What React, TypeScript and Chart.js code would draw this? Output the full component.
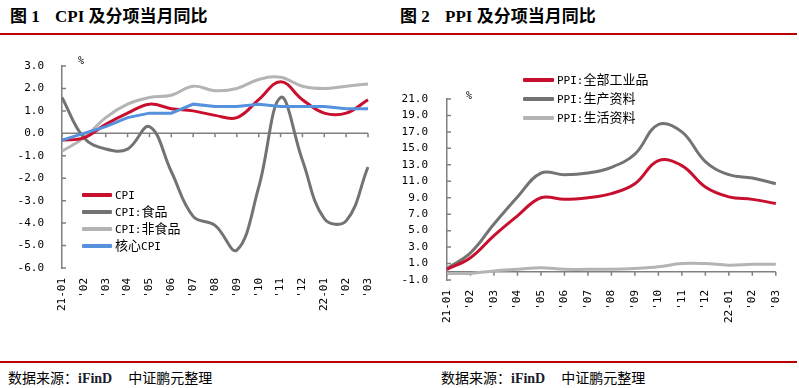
import React, { useEffect, useRef } from "react";
import { Chart, registerables } from "chart.js";

Chart.register(...registerables);

// ---------- data ----------
const months = ["21-01", "'02", "'03", "'04", "'05", "'06", "'07", "'08", "'09", "'10", "'11", "'12", "22-01", "'02", "'03"];

const cpiNames = ["CPI", "CPI:食品", "CPI:非食品", "核心CPI"];
const cpiAll = [-0.3, -0.2, 0.4, 0.9, 1.3, 1.1, 1.0, 0.8, 0.7, 1.5, 2.3, 1.5, 0.9, 0.9, 1.5];
const cpiFood = [1.6, -0.2, -0.7, -0.7, 0.3, -1.7, -3.7, -4.1, -5.2, -2.4, 1.6, -1.2, -3.8, -3.9, -1.5];
const cpiNonFood = [-0.8, -0.2, 0.7, 1.3, 1.6, 1.7, 2.1, 1.9, 2.0, 2.4, 2.5, 2.1, 2.0, 2.1, 2.2];
const cpiCore = [-0.3, 0.0, 0.3, 0.7, 0.9, 0.9, 1.3, 1.2, 1.2, 1.3, 1.2, 1.2, 1.2, 1.1, 1.1];

const ppiNames = ["PPI:全部工业品", "PPI:生产资料", "PPI:生活资料"];
const ppiAll = [0.3, 1.7, 4.4, 6.8, 9.0, 8.8, 9.0, 9.5, 10.7, 13.5, 12.9, 10.3, 9.1, 8.8, 8.3];
const ppiProducer = [0.4, 2.3, 5.8, 9.1, 12.0, 11.8, 12.0, 12.7, 14.3, 17.9, 17.0, 13.4, 11.8, 11.4, 10.7];
const ppiConsumer = [-0.2, -0.2, 0.1, 0.3, 0.5, 0.3, 0.3, 0.3, 0.4, 0.6, 1.0, 1.0, 0.8, 0.9, 0.9];

const RED = "#c8102e";
const DARK = "#737373";
const LIGHT = "#b4b4b4";
const BLUE = "#5591dc";
const AXIS = "#808080";

const MONO = "'DejaVu Sans Mono', monospace";
const CJK = "'Noto Sans CJK SC', sans-serif";
const SERIF = "'Liberation Serif', serif";

// ---------- plugin: zero axis with ticks, inward y ticks ----------
const axisDecor = {
  id: "axisDecor",
  beforeDatasetsDraw(chart: any) {
    const ctx = chart.ctx;
    const xs = chart.scales.x;
    const ys = chart.scales.y;
    ctx.save();
    ctx.strokeStyle = AXIS;
    ctx.lineWidth = 1.5;
    const y0 = ys.getPixelForValue(0);
    ctx.beginPath();
    ctx.moveTo(xs.left, y0);
    ctx.lineTo(xs.right, y0);
    for (let i = 0; i < chart.data.labels.length; i++) {
      const px = xs.getPixelForValue(i);
      ctx.moveTo(px, y0);
      ctx.lineTo(px, y0 + 4);
    }
    for (const t of ys.ticks) {
      const py = ys.getPixelForValue(t.value);
      ctx.moveTo(ys.right, py);
      ctx.lineTo(ys.right + 4, py);
    }
    ctx.stroke();
    ctx.restore();
  },
};

function makeConfig(
  datasets: any[],
  yMin: number,
  yMax: number,
  step: number,
  yWidth: number,
  xHeight: number,
  padding: any,
  tickPad: number
) {
  return {
    type: "line",
    data: { labels: months, datasets },
    options: {
      responsive: false,
      devicePixelRatio: 1,
      animation: false,
      layout: { padding },
      plugins: { legend: { display: false }, title: { display: false }, tooltip: { enabled: false } },
      elements: { point: { radius: 0 } },
      scales: {
        x: {
          type: "category",
          offset: false,
          grid: { display: false, drawTicks: false },
          border: { display: false },
          ticks: {
            autoSkip: false,
            minRotation: 90,
            maxRotation: 90,
            padding: 10,
            color: "#000",
            font: { family: MONO, size: 11 },
          },
          afterFit: (s: any) => {
            s.height = xHeight;
          },
        },
        y: {
          min: yMin,
          max: yMax,
          grid: { display: false, drawTicks: false },
          border: { display: true, color: AXIS, width: 1.5 },
          ticks: {
            stepSize: step,
            padding: tickPad,
            color: "#000",
            font: { family: MONO, size: 11 },
            callback: (v: any) => Number(v).toFixed(1),
          },
          afterFit: (s: any) => {
            s.width = yWidth;
          },
        },
      },
    },
    plugins: [axisDecor],
  } as any;
}

function ChartCanvas({ config, left, top, width, height }: any) {
  const ref = useRef<HTMLCanvasElement | null>(null);
  useEffect(() => {
    if (!ref.current) return;
    const c = new Chart(ref.current, config);
    return () => c.destroy();
  }, []);
  return (
    <canvas
      ref={ref}
      width={width}
      height={height}
      style={{ position: "absolute", left, top, width, height, display: "block" }}
    />
  );
}

function Mixed({ text }: { text: string }) {
  const parts = text.match(/[\x00-\x7f]+|[^\x00-\x7f]+/g) || [];
  return (
    <>
      {parts.map((p, i) =>
        /^[\x00-\x7f]+$/.test(p) ? (
          <span key={i} style={{ fontFamily: MONO, fontSize: 11 }}>{p}</span>
        ) : (
          <span key={i} style={{ fontFamily: CJK, fontSize: 13 }}>{p}</span>
        )
      )}
    </>
  );
}

function Legend({ items, left, tops, sample }: any) {
  return (
    <>
      {items.map((it: any, i: number) => (
        <div
          key={i}
          style={{
            position: "absolute",
            left,
            top: tops[i] - 9,
            height: 18,
            display: "flex",
            alignItems: "center",
            whiteSpace: "nowrap",
            color: "#000",
          }}
        >
          <div style={{ width: sample, height: 4, background: it.color, marginRight: 3, borderRadius: 1 }} />
          <div style={{ lineHeight: "18px" }}>
            <Mixed text={it.name} />
          </div>
        </div>
      ))}
    </>
  );
}

function Title({ left, num, head }: any) {
  return (
    <>
      <div style={{ position: "absolute", left, top: 4, whiteSpace: "nowrap", lineHeight: "22px", fontWeight: 700 }}>
        <span style={{ fontFamily: CJK, fontSize: 17 }}>图</span>
        <span style={{ fontFamily: SERIF, fontSize: 17 }}> {num}</span>
      </div>
      <div style={{ position: "absolute", left: left + 45, top: 4, whiteSpace: "nowrap", lineHeight: "22px", fontWeight: 700 }}>
        <span style={{ fontFamily: SERIF, fontSize: 17 }}>{head} </span>
        <span style={{ fontFamily: CJK, fontSize: 17 }}>及分项当月同比</span>
      </div>
    </>
  );
}

function Source({ left }: any) {
  return (
    <div style={{ position: "absolute", left, top: 367, whiteSpace: "nowrap", lineHeight: "20px", color: "#000" }}>
      <span style={{ fontFamily: CJK, fontSize: 14 }}>数据来源：</span>
      <span style={{ fontFamily: SERIF, fontSize: 14, fontWeight: 700, color: "#1a1a2e" }}>iFinD</span>
      <span style={{ fontFamily: CJK, fontSize: 14, marginLeft: 16 }}>中证鹏元整理</span>
    </div>
  );
}

export default function App() {
  const line = (label: string, data: number[], color: string, order: number, tension = 0.4) => ({
    label,
    data,
    borderColor: color,
    backgroundColor: color,
    borderWidth: 3,
    tension,
    order,
    fill: false,
    pointRadius: 0,
  });

  const cfg1 = makeConfig(
    [
      line(cpiNames[0], cpiAll, RED, 1),
      line(cpiNames[1], cpiFood, DARK, 2),
      line(cpiNames[2], cpiNonFood, LIGHT, 3),
      line(cpiNames[3], cpiCore, BLUE, 0, 0),
    ],
    -6,
    3,
    1,
    62,
    62,
    { top: 26, right: 32, bottom: 0, left: 0 },
    18
  );

  const cfg2 = makeConfig(
    [
      line(ppiNames[0], ppiAll, RED, 0),
      line(ppiNames[1], ppiProducer, DARK, 1),
      line(ppiNames[2], ppiConsumer, LIGHT, 2),
    ],
    -1,
    21,
    2,
    47,
    50,
    { top: 59, right: 20, bottom: 0, left: 0 },
    19
  );

  return (
    <div style={{ position: "fixed", left: 0, top: 0, width: 799, height: 388, background: "#fff", overflow: "hidden" }}>
      <Title left={10} num="1" head="CPI" />
      <Title left={400} num="2" head="PPI" />
      <div style={{ position: "absolute", left: 0, top: 33, width: 797, height: 2, background: "#c00000" }} />

      <ChartCanvas config={cfg1} left={0} top={40} width={400} height={290} />
      <ChartCanvas config={cfg2} left={400} top={40} width={399} height={290} />

      <div style={{ position: "absolute", left: 78, top: 55, fontFamily: MONO, fontSize: 10 }}>%</div>
      <div style={{ position: "absolute", left: 466, top: 90, fontFamily: MONO, fontSize: 10 }}>%</div>

      <Legend
        left={82}
        tops={[195, 212, 229, 246]}
        sample={30}
        items={[
          { name: cpiNames[0], color: RED },
          { name: cpiNames[1], color: DARK },
          { name: cpiNames[2], color: LIGHT },
          { name: cpiNames[3], color: BLUE },
        ]}
      />
      <Legend
        left={523}
        tops={[80, 99, 118]}
        sample={31}
        items={[
          { name: ppiNames[0], color: RED },
          { name: ppiNames[1], color: DARK },
          { name: ppiNames[2], color: LIGHT },
        ]}
      />

      <div style={{ position: "absolute", left: 0, top: 361, width: 797, height: 2, background: "#c00000" }} />
      <Source left={8} />
      <Source left={441} />
    </div>
  );
}
